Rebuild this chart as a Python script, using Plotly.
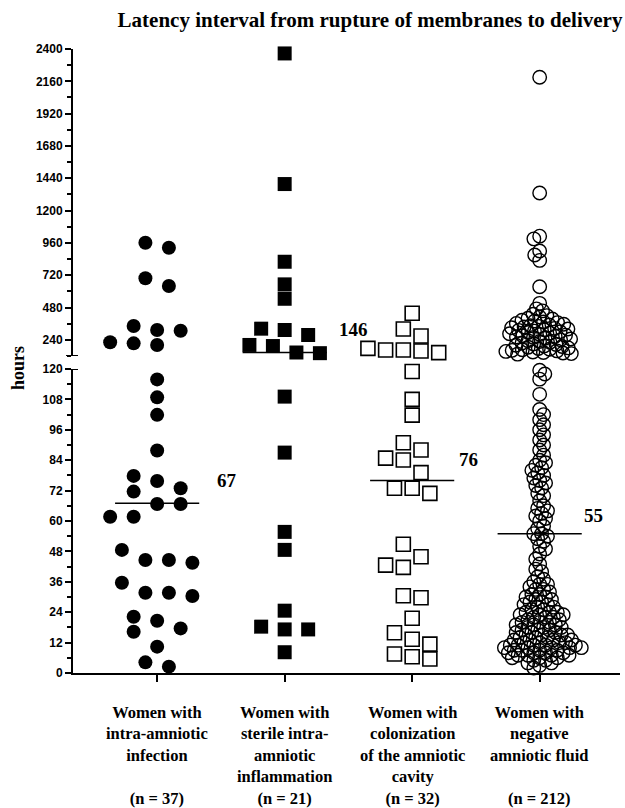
import math
import plotly.graph_objects as go

# ---------------- data ----------------
group_labels = [
    "Women with<br>intra-amniotic<br>infection<br> <br>(n = 37)",
    "Women with<br>sterile intra-<br>amniotic<br>inflammation<br>(n = 21)",
    "Women with<br>colonization<br>of the amniotic<br>cavity<br>(n = 32)",
    "Women with<br>negative<br>amniotic fluid<br> <br>(n = 212)",
]

# hours, intra-amniotic infection (n = 37)
infection_hours = [961, 924, 697, 640, 343, 313, 308, 222, 214, 202,
                   115.9, 108.8, 101.9, 87.8, 77.8, 75.8, 72.9, 71.6, 66.7, 66.7,
                   61.7, 61.7, 48.6, 44.6, 44.6, 43.5, 35.6, 31.7, 31.7, 30.4,
                   22.2, 20.6, 17.6, 16.3, 10.4, 4.2, 2.5]

# hours, sterile intra-amniotic inflammation (n = 21)
sterile_hours = [2367, 1397, 820, 652, 545, 323, 313, 276, 202, 194, 146, 141,
                 109.1, 87.0, 55.7, 48.6, 24.6, 18.3, 17.2, 17.2, 8.2]

# hours, colonization of the amniotic cavity (n = 32)
colonization_hours = [437, 320, 268, 177, 165, 165, 157, 145,
                      119, 108, 101.8, 90.9, 88, 84.8, 84.1, 79.1, 72.9, 72.9, 70.9,
                      50.8, 45.9, 42.6, 41.7, 30.5, 29.7, 21.6, 15.9, 13.3, 11.4,
                      7.5, 6.4, 5.5]

# hours, negative amniotic fluid (n = 212)
negative_hours = [
    2190, 1330, 1010, 990, 900, 870, 830, 634,
    511, 470, 455,
    430, 420, 410, 400, 395, 385, 380, 372, 368,
    362, 356, 350, 345, 340, 335, 330, 325, 320, 315, 310, 305, 300, 295, 290, 285,
    280, 275, 270, 266, 262,
    258, 252, 246, 240, 234, 228, 222, 216, 210, 205,
    200, 195, 190, 185, 180, 175, 170, 166, 162, 158,
    154, 150, 146, 142, 138, 134,
    119.5, 118, 116, 110,
    104, 102, 100, 98, 96, 94, 92, 90, 88, 86,
    84, 83, 82, 81, 80, 79, 78, 77, 76, 75, 74, 73,
    71, 70, 68,
    66, 65, 64, 63, 62, 61, 60, 58, 57, 55,
    55, 54, 53, 52, 50, 49, 47,
    45, 43, 41, 40, 38, 37, 36, 35, 35, 34, 33, 33, 32,
    31, 31, 30, 30, 29, 29, 28, 28, 27, 27, 26, 26,
    25, 25, 24, 24, 24, 23, 23, 23, 22, 22, 22,
    21, 21, 20, 20, 20, 19, 19, 19, 18, 18, 18,
    17, 17, 17, 16, 16, 16, 15, 15, 15, 15, 14, 14, 14,
    13, 13, 13, 13, 12, 12, 12, 12,
    11, 11, 11, 11, 11, 10, 10, 10, 10, 10,
    9, 9, 9, 9, 8, 8, 8, 8,
    7, 7, 7, 7, 6, 6, 6, 5, 5, 4, 4, 3, 2,
]

groups = [infection_hours, sterile_hours, colonization_hours, negative_hours]
medians = [67, 146, 76, 55]
median_text = ["67", "146", "76", "55"]

lower_ticks = list(range(0, 121, 12))
upper_ticks = list(range(240, 2401, 240))

# ---------------- layout geometry ----------------
W, H = 625, 808
ML, MR, MT, MB = 73, 5, 49, 135
PLOT_W = W - ML - MR
PLOT_H = H - MT - MB
BOTTOM_PX = H - MB
LOW_TOP_PX = 369
UP_BOT_PX = 356
BREAK, YMAX = 120, 2400
XMIN, XMAX = -0.66, 3.63
LOW_DOM = [0, (BOTTOM_PX - LOW_TOP_PX) / PLOT_H]
UP_DOM = [(BOTTOM_PX - UP_BOT_PX) / PLOT_H, 1]
PX_PER_X = PLOT_W / (XMAX - XMIN)


def value_to_px(v):
    if v <= BREAK:
        return BOTTOM_PX - v / BREAK * (BOTTOM_PX - LOW_TOP_PX)
    return UP_BOT_PX - (v - BREAK) / (YMAX - BREAK) * (UP_BOT_PX - MT)


def paper_y(px):
    return (BOTTOM_PX - px) / PLOT_H


def paper_x(px):
    return (px - ML) / PLOT_W


def swarm_rows(vals, step, vmin):
    py = [value_to_px(v) for v in vals]
    order = sorted(range(len(vals)), key=lambda i: py[i])
    placed, off = [], [0.0] * len(vals)
    shifts = [0, 0.5, -0.5, 1, -1, 1.5, -1.5, 2, -2, 2.5, -2.5, 3, -3]
    i = 0
    while i < len(order):
        j = i + 1
        while j < len(order) and py[order[j]] - py[order[i]] < vmin:
            j += 1
        grp = order[i:j]
        n = len(grp)
        base = [(k - (n - 1) / 2) * step for k in range(n)]
        xs = base
        for s in shifts:
            xs = [b + s * step for b in base]
            if all(not (abs(x - x0) < step * 0.98 and abs(py[g] - y0) < vmin)
                   for x, g in zip(xs, grp) for x0, y0 in placed):
                break
        for x, g in zip(xs, grp):
            off[g] = x
            placed.append((x, py[g]))
        i = j
    return off


def swarm_bee(vals, d):
    py = [value_to_px(v) for v in vals]
    order = sorted(range(len(vals)), key=lambda i: (py[i], i))
    placed, off = [], [0.0] * len(vals)
    flip = 1
    for i in order:
        y = py[i]
        cands = [0.0]
        for x0, y0 in placed:
            dy = y - y0
            if abs(dy) < d:
                dx = math.sqrt(d * d - dy * dy)
                cands += [x0 + dx, x0 - dx]
        good = [c for c in cands
                if all((c - x0) ** 2 + (y - y0) ** 2 >= d * d - 1e-6 for x0, y0 in placed)]
        best = min(good, key=lambda c: (round(abs(c), 4), -flip * c))
        flip = -flip
        off[i] = best
        placed.append((best, y))
    return off


offsets = [
    swarm_rows(infection_hours, 23.5, 14.0),
    swarm_rows(sterile_hours, 23.5, 14.0),
    swarm_rows(colonization_hours, 17.7, 14.0),
    swarm_bee(negative_hours, 6.4),
]

styles = [
    dict(symbol="circle", size=14, color="black", line=dict(width=0)),
    dict(symbol="square", size=14, color="black", line=dict(width=0)),
    dict(symbol="square-open", size=14, color="black", line=dict(width=1.6, color="black")),
    dict(symbol="circle-open", size=13.5, color="black", line=dict(width=1.4, color="black")),
]

fig = go.Figure()
for gi, (vals, offs) in enumerate(zip(groups, offsets)):
    for axis, sel in (("y", lambda v: v <= BREAK), ("y2", lambda v: v > BREAK)):
        xs = [gi + o / PX_PER_X for v, o in zip(vals, offs) if sel(v)]
        ys = [v for v in vals if sel(v)]
        fig.add_trace(go.Scatter(x=xs, y=ys, yaxis=axis, mode="markers",
                                 marker=styles[gi], cliponaxis=False,
                                 showlegend=False, hoverinfo="skip"))

shapes = []
for gi, m in enumerate(medians):
    shapes.append(dict(type="line", xref="x", yref="y" if m <= BREAK else "y2",
                       x0=gi - 0.33, x1=gi + 0.33, y0=m, y1=m, layer="below",
                       line=dict(color="black", width=1.5)))
# axis break caps
for yr in ("y", "y2"):
    shapes.append(dict(type="line", xref="paper", yref=yr, x0=paper_x(66), x1=paper_x(78),
                       y0=BREAK, y1=BREAK, line=dict(color="black", width=2)))

serif = "Liberation Serif"
annotations = []
for gi, lab in enumerate(group_labels):
    annotations.append(dict(x=gi, xref="x", y=paper_y(700.5), yref="paper", yanchor="top",
                            xanchor="center", text="<b>" + lab + "</b>", showarrow=False,
                            align="center", font=dict(family=serif, size=16.5, color="black")))

label_pos = [(0.55, 76, "y"), (1.54, 320, "y2"), (2.445, 84.4, "y"), (3.424, 62, "y")]
for (lx, ly, yr), t in zip(label_pos, median_text):
    annotations.append(dict(x=lx, xref="x", y=ly, yref=yr, text="<b>" + t + "</b>",
                            xanchor="center", yanchor="middle", showarrow=False,
                            font=dict(family=serif, size=19, color="black")))

annotations.append(dict(x=paper_x(18), xref="paper", y=paper_y(368), yref="paper",
                        xanchor="center", yanchor="middle",
                        text="<b>hours</b>", textangle=-90, showarrow=False,
                        font=dict(family=serif, size=18, color="black")))

tickfont = dict(family="Liberation Sans", size=12, color="black", weight="bold")
axis_common = dict(showline=True, linewidth=2, linecolor="black", ticks="outside",
                   ticklen=6, tickwidth=2, tickcolor="black", showgrid=False,
                   zeroline=False, tickfont=tickfont, fixedrange=True)

fig.update_layout(
    width=W, height=H,
    margin=dict(l=ML, r=MR, t=MT, b=MB),
    paper_bgcolor="white", plot_bgcolor="white",
    title=dict(text="<b>Latency interval from rupture of membranes to delivery</b>",
               x=370 / W, xref="container", xanchor="center",
               y=1 - 20 / H, yref="container", yanchor="middle",
               font=dict(family=serif, size=21, color="black")),
    xaxis=dict(range=[XMIN, XMAX], tickvals=[0, 1, 2, 3], showticklabels=False,
               anchor="y", showline=True, linewidth=2, linecolor="black",
               ticks="outside", ticklen=7, tickwidth=2, tickcolor="black",
               showgrid=False, zeroline=False, fixedrange=True),
    yaxis=dict(domain=LOW_DOM, range=[0, BREAK], tickmode="array", tickvals=lower_ticks,
               minor=dict(tickmode="linear", tick0=0, dtick=6, ticks="outside",
                          ticklen=4, tickwidth=2, tickcolor="black"),
               anchor="x", **axis_common),
    yaxis2=dict(domain=UP_DOM, range=[BREAK, YMAX], tickmode="array", tickvals=upper_ticks,
                minor=dict(tickmode="linear", tick0=0, dtick=120, ticks="outside",
                           ticklen=4, tickwidth=2, tickcolor="black"),
                anchor="x", **axis_common),
    shapes=shapes,
    annotations=annotations,
)

fig.write_html("out.html", config={"displayModeBar": False},
               post_script="document.body.style.margin='0px';document.body.style.padding='0px';")
